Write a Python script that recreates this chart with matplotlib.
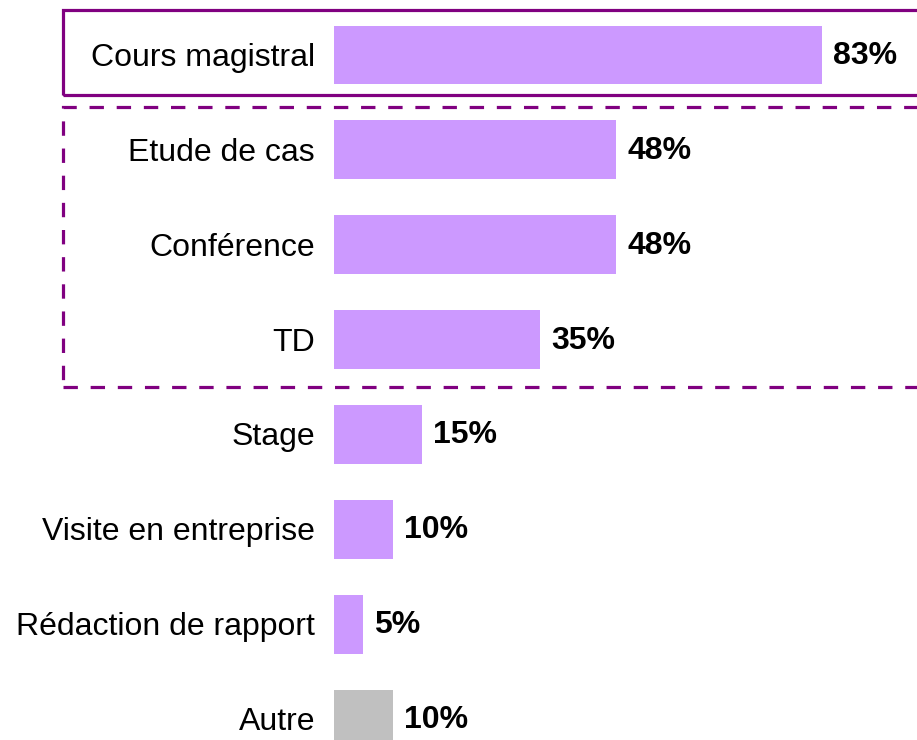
import matplotlib
matplotlib.use("Agg")
import matplotlib.pyplot as plt
from matplotlib.patches import Rectangle

plt.rcParams['font.family'] = ['Liberation Sans', 'DejaVu Sans']

categories = ["Cours magistral", "Etude de cas", "Conférence", "TD", "Stage",
              "Visite en entreprise", "Rédaction de rapport", "Autre"]
values = [83, 48, 48, 35, 15, 10, 5, 10]
bar_colors = ["#CC99FF"] * 7 + ["#C0C0C0"]

W, H = 917, 740
fig = plt.figure(figsize=(W / 100, H / 100), dpi=100)

# axes: x=0 at pixel 334, 5.88 px per percent; rows 95 px apart starting at y=54
x0 = 334
ppu = 5.88
ax = fig.add_axes([x0 / W, 0, (W - x0) / W, 1])
ax.set_xlim(0, (W - x0) / ppu)
ax.set_ylim(7 + (H - 719) / 94.86, -55 / 94.86)
ax.axis('off')

ypos = list(range(len(categories)))
ax.barh(ypos, values, height=0.62, color=bar_colors)

for y, cat, v in zip(ypos, categories, values):
    ax.annotate(cat, (0, y), xytext=(-19, -11), textcoords='offset pixels',
                ha='right', va='baseline', fontsize=23, color='black',
                annotation_clip=False)
    ax.annotate(f"{v}%", (v, y), xytext=(11, -9), textcoords='offset pixels',
                ha='left', va='baseline', fontsize=23, fontweight='bold',
                color='black', annotation_clip=False)

# highlight boxes (figure pixel coords, origin at top)
def box(x, top, bottom, **kw):
    r = Rectangle((x / W, 1 - bottom / H), (W + 20 - x) / W, (bottom - top) / H,
                  transform=fig.transFigure, fill=False, clip_on=False, **kw)
    fig.patches.append(r)

box(63, 10, 95, edgecolor="#800080", linewidth=2.3)
box(63, 107, 387, edgecolor="#800080", linewidth=2.3, linestyle=(0, (4.5, 4)))

fig.savefig("out.png", dpi=100, facecolor='white')
